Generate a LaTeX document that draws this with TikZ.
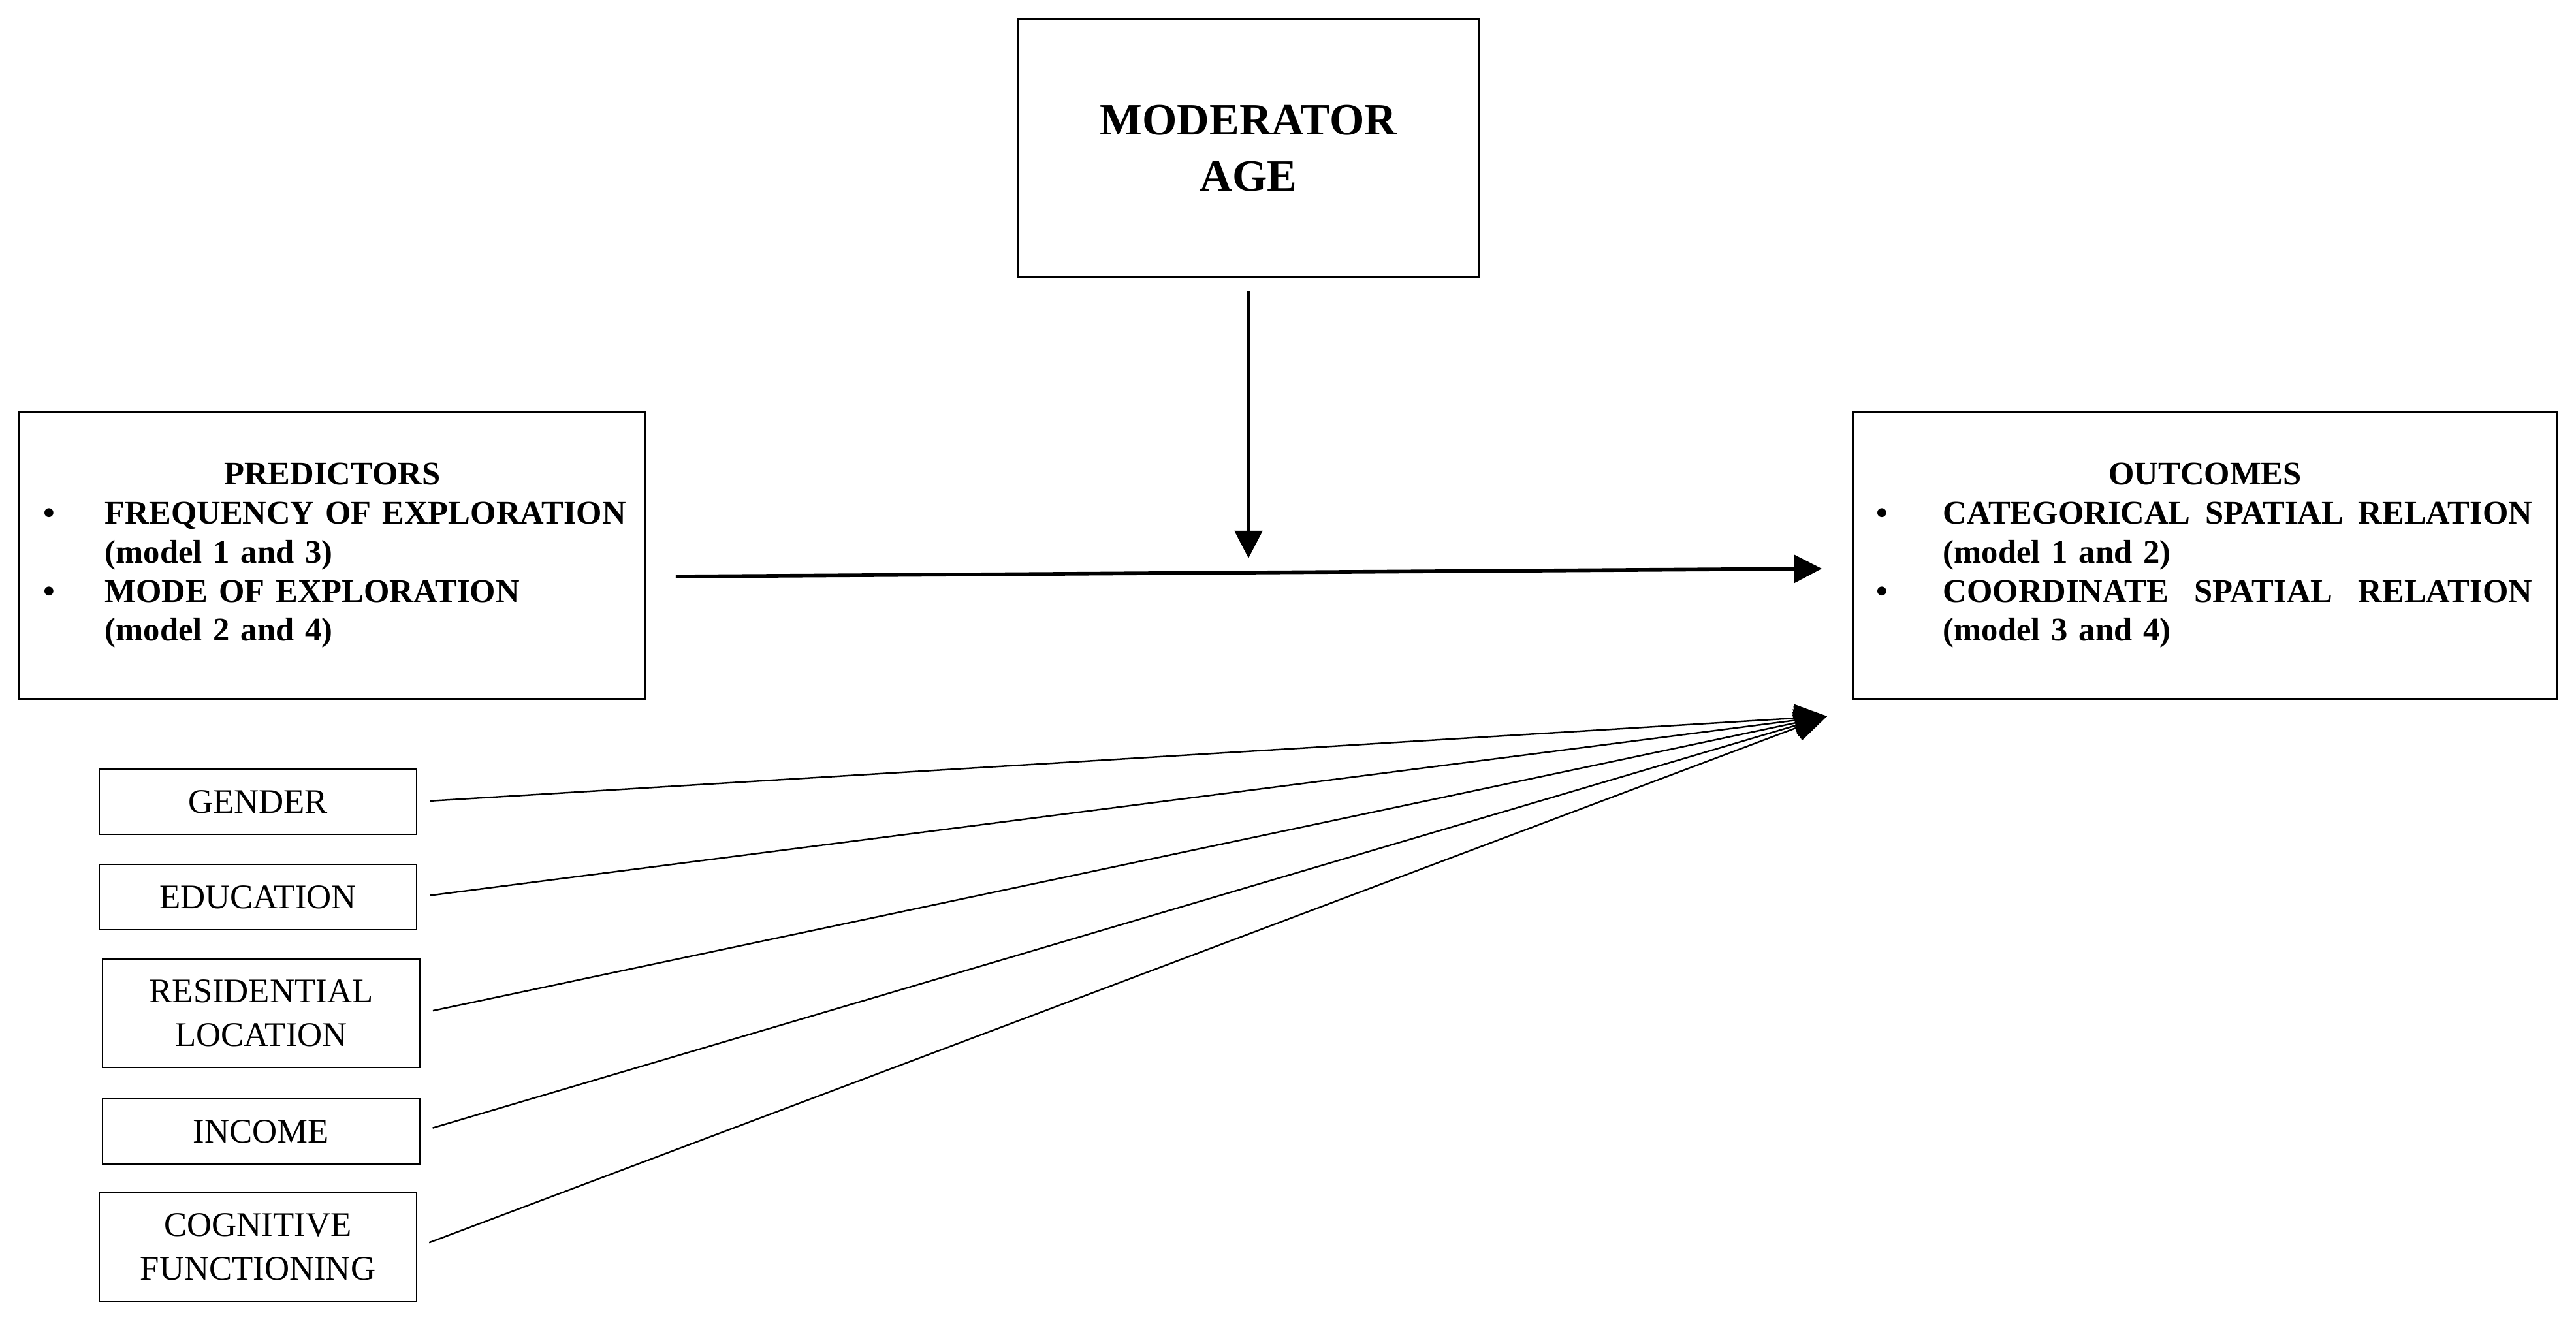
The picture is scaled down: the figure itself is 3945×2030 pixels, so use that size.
\documentclass[tikz,border=0pt]{standalone}
\usepackage{fontspec}
\setmainfont{Liberation Serif}
\usepackage{tikz}
\usetikzlibrary{arrows.meta}

\begin{document}
\begin{tikzpicture}[x=0.01cm, y=-0.01cm,
    bigbox/.style={draw, line width=0.9pt, minimum height=4.38cm, align=left, font=\fontsize{14.4}{17}\selectfont\bfseries},
    ctrlbox/.style={draw, line width=0.7pt, minimum width=4.86cm, minimum height=1cm, align=center, font=\fontsize{15}{19}\selectfont},
    mainarrow/.style={-{Triangle[length=12pt,width=12pt]}, line width=1.6pt},
    ctrlarrow/.style={-{Triangle[length=14pt,width=12pt]}, line width=0.7pt, shorten <=0.19cm}]
    \fill[white] (0,0) rectangle (3945,2030);
    \useasboundingbox (0,0) rectangle (3945,2030);

    % Moderator
    \node[draw, line width=0.9pt, minimum width=7.06cm, minimum height=3.95cm, align=center,
        font=\fontsize{19.5}{24.5}\selectfont\bfseries] (mod) at (1912,227) {MODERATOR\\AGE};

    % Predictors and outcomes
    \node[bigbox, minimum width=9.58cm, inner xsep=0.37cm, text width=8.84cm] (pred) at (509,851)
        {\makebox[8.84cm]{PREDICTORS}\\
         \makebox[0.94cm][l]{\textbullet}\mbox{FREQUENCY OF EXPLORATION}\\
         \hspace*{0.94cm}(model 1 and 3)\\
         \makebox[0.94cm][l]{\textbullet}MODE OF EXPLORATION\\
         \hspace*{0.94cm}(model 2 and 4)};
    \node[bigbox, minimum width=10.78cm, inner xsep=0.36cm, text width=10.06cm] (out) at (3377,851)
        {\makebox[10.06cm]{OUTCOMES}\\
         \makebox[1.02cm][l]{\textbullet}\hbox to 9.02cm{CATEGORICAL\hfill SPATIAL\hfill RELATION}\\
         \hspace*{1.02cm}(model 1 and 2)\\
         \makebox[1.02cm][l]{\textbullet}\hbox to 9.02cm{COORDINATE\hfill SPATIAL\hfill RELATION}\\
         \hspace*{1.02cm}(model 3 and 4)};

    % Covariates
    \node[ctrlbox] (gender) at (395,1228) {GENDER};
    \node[ctrlbox] (education) at (395,1374) {EDUCATION};
    \node[ctrlbox, minimum height=1.66cm] (residence) at (400,1552) {RESIDENTIAL\\LOCATION};
    \node[ctrlbox] (income) at (400,1733) {INCOME};
    \node[ctrlbox, minimum height=1.66cm] (cognition) at (395,1910) {COGNITIVE\\FUNCTIONING};

    % Arrows
    \coordinate (modtip) at (1912,855);
    \coordinate (maintip) at (2790,871);
    \coordinate (ctip) at (2798,1097);
    \draw[mainarrow, shorten <=0.2cm] (mod.south) -- (modtip);
    \draw[mainarrow] (pred.east) ++(45,32) -- (maintip);
    \draw[ctrlarrow] (gender.east) -- (ctip);
    \draw[ctrlarrow] (education.east) -- (ctip);
    \draw[ctrlarrow] (residence.east) -- (ctip);
    \draw[ctrlarrow] (income.east) -- (ctip);
    \draw[ctrlarrow] (cognition.east) -- (ctip);
\end{tikzpicture}
\end{document}
